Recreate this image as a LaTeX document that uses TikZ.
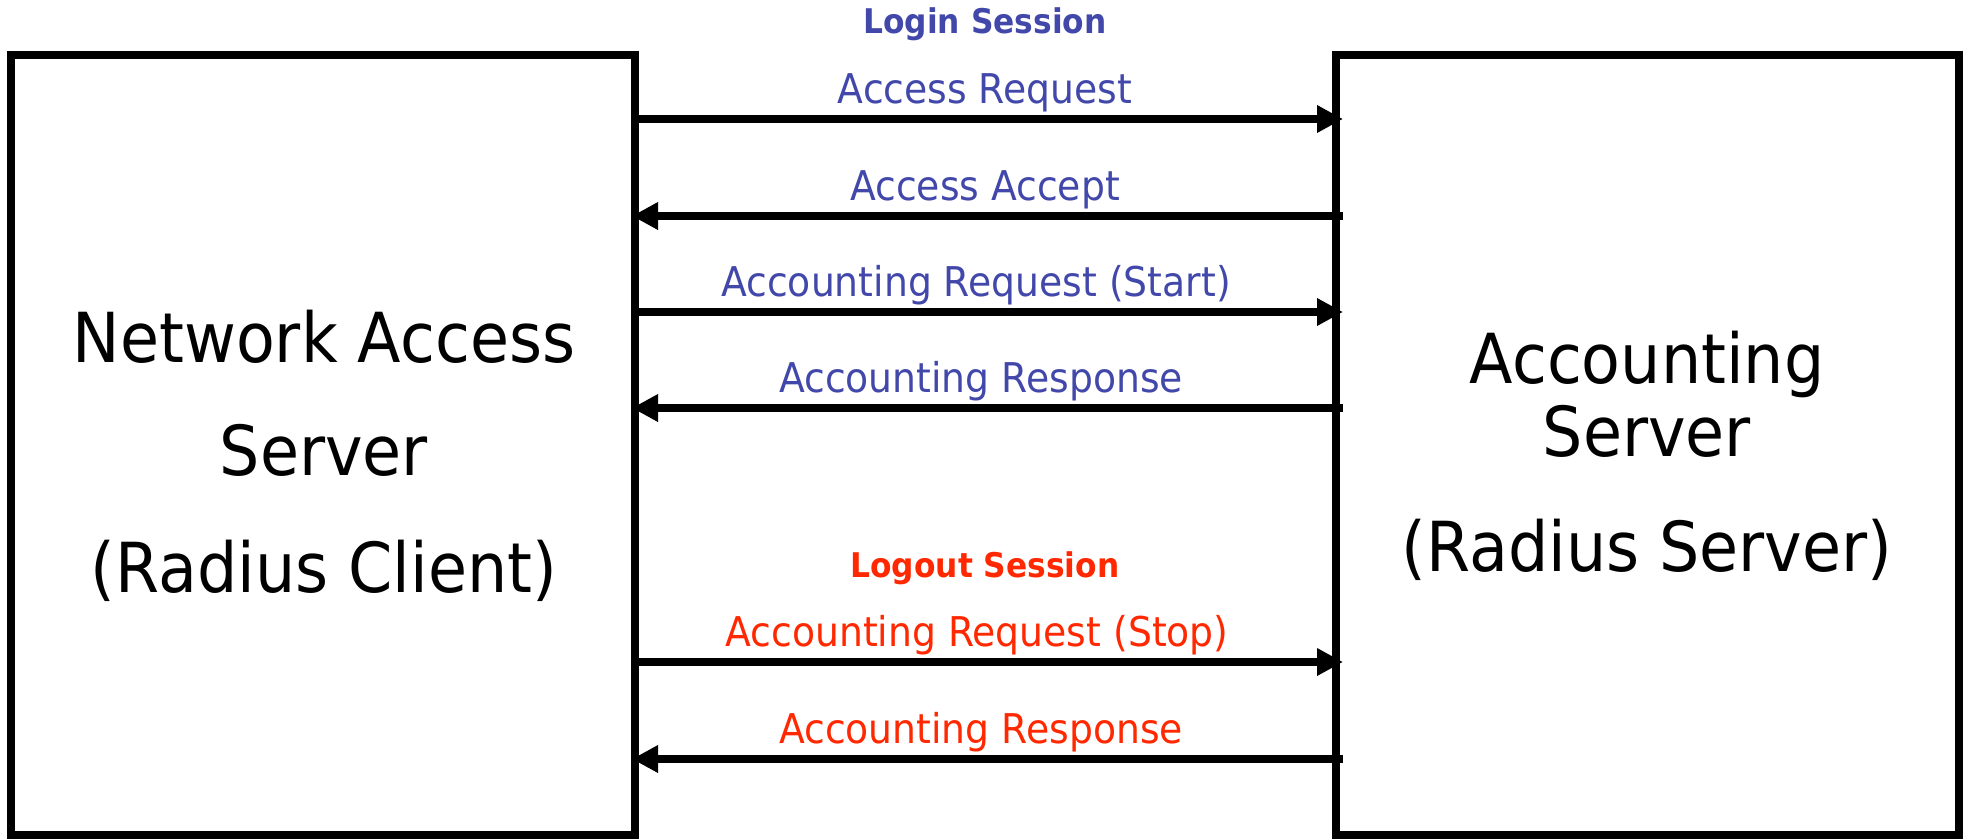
\documentclass[tikz,border=0pt]{standalone}
\usepackage{fontspec}
\setmainfont{DejaVu Sans}[FakeStretch=0.92]
\usetikzlibrary{arrows.meta}
\definecolor{loginblue}{RGB}{66,72,170}
\definecolor{logoutred}{RGB}{255,40,0}
\begin{document}
\begin{tikzpicture}[x=1pt,y=-1pt,
  box/.style={draw=black, line width=8pt, rectangle, inner sep=0pt, outer sep=0pt},
  bigtext/.style={anchor=base, inner sep=0pt, font=\fontsize{69}{80}\selectfont},
  lbl/.style={anchor=base, inner sep=0pt, font=\fontsize{41}{48}\selectfont},
  hdr/.style={anchor=base, inner sep=0pt, font=\bfseries\fontsize{34}{40}\selectfont},
  fwd/.style={line width=8pt, -{Triangle[length=26pt,width=26pt]}, shorten <=-4pt, shorten >=-7pt},
  bwd/.style={line width=8pt, -{Triangle[length=26pt,width=26pt]}, shorten <=-7pt, shorten >=-3pt}]
\useasboundingbox (0,0) rectangle (1972,839);

% boxes
\node[box, minimum width=624pt, minimum height=780pt] (nas) at (323,445) {};
\node[box, minimum width=623pt, minimum height=780pt] (acct) at (1647.5,445) {};

% box texts
\node[bigtext] (nas1) at (324,362) {Network Access};
\node[bigtext] (nas2) at (324,475) {Server};
\node[bigtext] (nas3) at (324,592) {(Radius Client)};
\node[bigtext] (acc1) at (1647,383) {Accounting};
\node[bigtext] (acc2) at (1647,456) {Server};
\node[bigtext] (acc3) at (1647,571) {(Radius Server)};

% headers
\node[hdr, text=loginblue] (login) at (985,33) {Login Session};
\node[hdr, text=logoutred] (logout) at (985,577) {Logout Session};

% message labels
\node[lbl, text=loginblue] (m1) at (985,103) {Access Request};
\node[lbl, text=loginblue] (m2) at (985,200) {Access Accept};
\node[lbl, text=loginblue] (m3) at (976,296) {Accounting Request (Start)};
\node[lbl, text=loginblue] (m4) at (981,392) {Accounting Response};
\node[lbl, text=logoutred] (m5) at (977,646) {Accounting Request (Stop)};
\node[lbl, text=logoutred] (m6) at (981,743) {Accounting Response};

% messages
\draw[fwd] (nas.east |- 0,119) -- (acct.west |- 0,119);
\draw[bwd] (acct.west |- 0,216) -- (nas.east |- 0,216);
\draw[fwd] (nas.east |- 0,312) -- (acct.west |- 0,312);
\draw[bwd] (acct.west |- 0,408) -- (nas.east |- 0,408);
\draw[fwd] (nas.east |- 0,662) -- (acct.west |- 0,662);
\draw[bwd] (acct.west |- 0,759) -- (nas.east |- 0,759);
\end{tikzpicture}
\end{document}
